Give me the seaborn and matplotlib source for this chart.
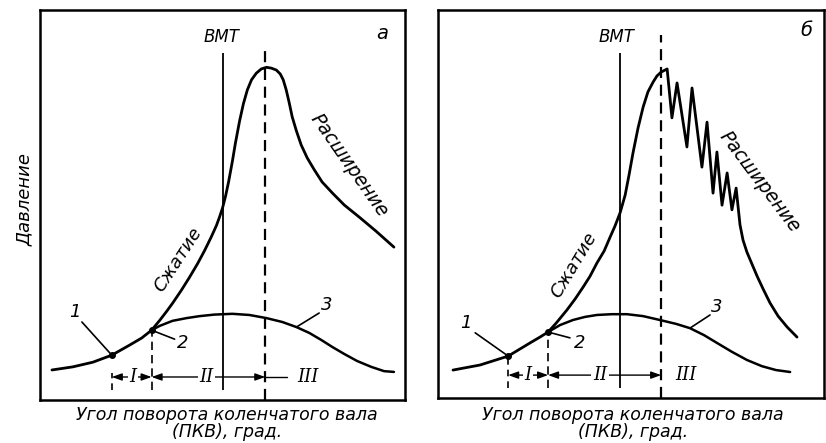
import matplotlib
matplotlib.use("Agg")
import matplotlib.pyplot as plt
import seaborn as sns

# угол ПКВ (град, 0 = ВМТ) и давление (усл. ед.)

# а — нормальное сгорание
ugol_a = [-57.0, -50.0, -43.3, -37.0, -31.0, -27.0, -23.7, -21.0, -18.7, -16.7, -13.7,
          -11.0, -8.3, -6.0, -3.7, -2.0, -1.0, 0.0, 1.0, 2.0, 3.3, 4.3, 5.7, 7.0, 8.3,
          9.7, 11.3, 13.0, 14.7, 16.3, 18.0, 19.3, 20.3, 21.3, 22.3, 23.3, 24.7, 26.3,
          28.3, 30.7, 33.3, 36.7, 40.7, 45.7, 51.3, 57.3]
davl_a = [7.7, 8.5, 9.7, 11.5, 14.1, 15.9, 17.9, 20.4, 22.7, 24.8, 28.2,
          31.5, 35.0, 38.3, 41.9, 44.8, 46.9, 49.2, 52.2, 55.8, 61.2, 65.8, 71.5, 76.0, 79.5,
          82.1, 83.8, 84.9, 85.3, 85.1, 84.6, 83.6, 82.1, 79.5, 76.2, 72.6, 69.0, 65.4,
          62.1, 59.0, 55.9, 53.1, 50.0, 46.9, 43.3, 39.2]
ugol_a3 = [-23.7, -21.0, -16.7, -12.0, -7.7, -2.7, 3.3, 9.0, 14.7, 20.0, 24.7, 29.0,
           33.0, 36.7, 40.7, 45.0, 49.7, 54.0, 57.3]
davl_a3 = [17.9, 19.0, 20.3, 21.0, 21.5, 21.9, 22.1, 21.8, 21.0, 20.0, 18.7, 17.2,
           15.4, 13.6, 11.8, 10.0, 8.5, 7.4, 7.2]

# б — детонационное сгорание
ugol_b = [-55.7, -46.7, -37.3, -30.0, -26.7, -24.0, -21.3, -17.7, -15.0, -12.3, -10.0,
          -7.7, -5.3, -3.3, -1.7, 0.0, 1.7, 3.0, 4.3, 6.0, 7.7, 9.3, 11.0, 12.3, 13.7,
          15.7, 17.3, 19.0, 22.3, 24.0, 27.3, 29.0, 31.0, 32.3, 34.0, 35.7, 37.3, 38.7,
          40.0, 41.0, 42.3, 44.0, 45.7, 47.7, 50.0, 52.7, 55.7, 59.0]
davl_b = [7.2, 8.5, 10.8, 14.2, 15.7, 17.0, 19.3, 22.7, 25.5, 28.6, 31.4,
          34.8, 37.9, 41.5, 44.3, 47.7, 52.3, 57.5, 63.1, 69.6, 75.0, 78.9, 81.4, 83.0, 84.0,
          84.8, 72.2, 81.2, 64.7, 79.9, 59.5, 71.1, 52.8, 63.4, 49.7, 58.0, 48.5, 54.1,
          44.6, 40.7, 37.6, 34.5, 31.4, 28.1, 24.5, 21.1, 18.3, 15.7]
ugol_b3 = [-24.0, -20.0, -15.7, -11.7, -7.7, -2.7, 2.3, 7.7, 13.3, 18.7, 23.3, 28.0,
           32.3, 37.3, 42.3, 47.3, 52.0, 56.7]
davl_b3 = [17.0, 18.8, 20.1, 20.9, 21.4, 21.6, 21.6, 21.1, 20.1, 19.1, 18.0, 16.2,
           14.2, 11.9, 9.8, 8.2, 7.2, 6.7]

# характерные точки: 1, 2, максимум давления
tochki_a = [-37.0, -23.7, 14.3]
tochki_b = [-37.3, -24.0, 13.7]

sns.set_theme(style="white")
plt.rcParams["font.family"] = ["DejaVu Sans"]

fig = plt.figure(figsize=(8.26, 4.43), dpi=100)
ax_a = fig.add_axes([40 / 826, 43 / 443, 365 / 826, 390 / 443])
ax_b = fig.add_axes([438 / 826, 45 / 443, 386 / 826, 388 / 443])

txt = dict(fontstyle="italic", color="black")


def panel(ax, ug, dv, ug3, dv3, pts, xlim, bukva, lab):
    sns.lineplot(x=ug, y=dv, ax=ax, sort=False, estimator=None, color="black", lw=2.0)
    sns.lineplot(x=ug3, y=dv3, ax=ax, sort=False, estimator=None, color="black", lw=1.8)
    ax.set_xlim(*xlim)
    ax.set_ylim(0, 100)
    ax.set_xticks([])
    ax.set_yticks([])
    ax.set_xlabel("")
    ax.set_ylabel("")
    for s in ax.spines.values():
        s.set_color("black")
        s.set_linewidth(1.8)

    p1 = dv[ug.index(pts[0])]
    p2 = dv[ug.index(pts[1])]
    # точки 1 и 2
    ax.plot(pts[:2], [p1, p2], "o", color="black", ms=4)
    # ВМТ
    ax.vlines(0, 2.5, 89, color="black", lw=1.3)
    # пунктиры
    ax.vlines(pts[2], 0, lab["top"], color="black", lw=1.6, linestyles=(0, (5, 3)))
    ax.vlines(pts[1], 2.5, p2, color="black", lw=1.2, linestyles=(0, (5, 3)))
    ax.vlines(pts[0], 2.5, lab["p1v"], color="black", lw=1.2, linestyles=(0, (4, 3)))

    ya = 5.9
    ar = dict(arrowstyle="<|-|>,head_length=0.5,head_width=0.18", color="black",
              lw=1.0, shrinkA=0, shrinkB=0)
    ax.annotate("", xy=(pts[1], ya), xytext=(pts[0], ya), arrowprops=ar)
    ax.annotate("", xy=(pts[2], ya), xytext=(pts[1], ya), arrowprops=ar)
    if lab["iii_line"]:
        ax.plot([pts[2], lab["iii_line"]], [ya, ya], color="black", lw=1.0)
    bb = dict(facecolor="white", edgecolor="none", pad=1)
    for key in ("I", "II", "III"):
        ax.text(lab[key], ya, key, ha="center", va="center", fontsize=13,
                family="DejaVu Serif", bbox=bb, **txt)

    ax.text(lab["bmt"], 93, "ВМТ", ha="center", va="center", fontsize=12, **txt)
    ax.text(lab["bukva"][0], lab["bukva"][1], bukva, ha="center", va="center",
            fontsize=14, **txt)
    ax.text(*lab["szh"], "Сжатие", ha="center", va="center", fontsize=13,
            rotation=lab["szh_rot"], rotation_mode="anchor", **txt)
    ax.text(*lab["ras"], "Расширение", ha="center", va="center", fontsize=13.5,
            rotation=lab["ras_rot"], rotation_mode="anchor", **txt)

    ln = dict(color="black", lw=1.2)
    ax.plot([lab["n1"][0], pts[0]], [lab["n1"][1], p1], **ln)
    ax.plot([pts[1], lab["n2"][0]], [p2, lab["n2"][1]], **ln)
    ax.plot(lab["n3x"], lab["n3y"], **ln)
    ax.text(*lab["t1"], "1", ha="center", va="center", fontsize=13, **txt)
    ax.text(*lab["t2"], "2", ha="center", va="center", fontsize=13, **txt)
    ax.text(*lab["t3"], "3", ha="center", va="center", fontsize=13, **txt)


panel(ax_a, ugol_a, davl_a, ugol_a3, davl_a3, tochki_a, (-61, 61), "а",
      dict(top=90.3, p1v=6.9, iii_line=21.5, I=-30.0, II=-5.3, III=28.5,
           bmt=-0.3, bukva=(53.3, 94), szh=(-15, 35.9), szh_rot=57,
           ras=(42.3, 60.3), ras_rot=-55, n1=(-47.0, 20.0), n2=(-16.0, 15.6),
           n3x=[24.7, 32.3], n3y=[18.7, 22.3], t1=(-49.3, 22.6), t2=(-13.3, 14.6),
           t3=(35, 24.4)))
panel(ax_b, ugol_b, davl_b, ugol_b3, davl_b3, tochki_b, (-60.7, 68), "б",
      dict(top=93.6, p1v=10.8, iii_line=None, I=-30.7, II=-6.7, III=22.0,
           bmt=-1.3, bukva=(62, 94.8), szh=(-15.3, 34.3), szh_rot=59,
           ras=(46.7, 55.7), ras_rot=-53, n1=(-48.3, 16.8), n2=(-16.7, 15.5),
           n3x=[23.3, 30.0], n3y=[18.0, 21.4], t1=(-51.3, 19.3), t2=(-13.3, 14.2),
           t3=(32.3, 23.5)))

for cx in (227, 633):
    fig.text(cx / 826, 1 - 415 / 443, "Угол поворота коленчатого вала",
             ha="center", va="center", fontsize=12.5, **txt)
    fig.text(cx / 826, 1 - 432 / 443, "(ПКВ), град.",
             ha="center", va="center", fontsize=12.5, **txt)

fig.text(25 / 826, 1 - 200 / 443, "Давление", rotation=90, ha="center",
         va="center", fontsize=13, **txt)

fig.savefig("out.png", dpi=100)
